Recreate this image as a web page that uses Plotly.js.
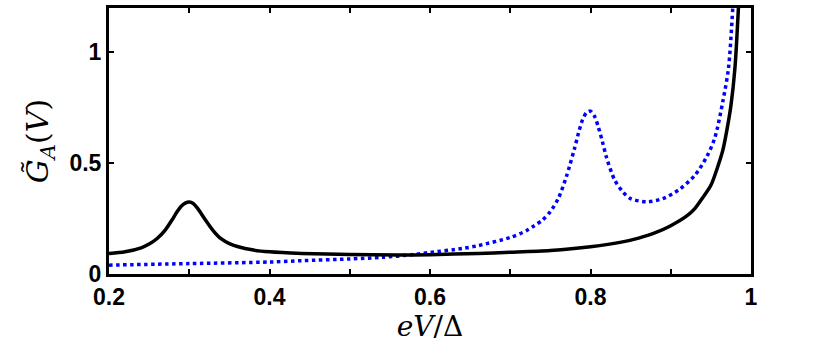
<!DOCTYPE html>
<html>
<head>
<meta charset="utf-8">
<script src="https://cdn.plot.ly/plotly-3.0.1.min.js"></script>
<style>
  body { margin: 0; background: #fff; }
  #graph { width: 830px; height: 345px; }
</style>
</head>
<body>
<div id="graph"></div>
<script>
// solid black curve
var x_black = [0.20, 0.22, 0.24, 0.25, 0.26, 0.27, 0.28, 0.285, 0.29, 0.295, 0.30, 0.305, 0.31, 0.315, 0.32,
	0.33, 0.34, 0.35, 0.36, 0.38, 0.40, 0.44, 0.50, 0.56, 0.60, 0.66, 0.70, 0.75, 0.80, 0.84,
	0.86, 0.88, 0.90, 0.92, 0.93, 0.94, 0.95, 0.96, 0.965, 0.97, 0.975, 0.98, 0.985];
var y_black = [0.092, 0.100, 0.118, 0.135, 0.160, 0.198, 0.252, 0.282, 0.306, 0.320, 0.325, 0.318, 0.298, 0.272, 0.245,
	0.195, 0.158, 0.137, 0.124, 0.108, 0.100, 0.093, 0.088, 0.086, 0.087, 0.093, 0.098, 0.106, 0.123, 0.145,
	0.162, 0.185, 0.218, 0.262, 0.295, 0.345, 0.400, 0.500, 0.560, 0.650, 0.760, 0.930, 1.250];

// dotted blue curve
var x_blue = [0.20, 0.30, 0.40, 0.44, 0.50, 0.54, 0.58, 0.60, 0.64, 0.66, 0.70, 0.72, 0.73, 0.74, 0.75,
	0.76, 0.77, 0.78, 0.785, 0.79, 0.795, 0.80, 0.805, 0.81, 0.815, 0.82, 0.83, 0.84, 0.85, 0.87,
	0.89, 0.91, 0.93, 0.945, 0.955, 0.965, 0.972, 0.978];
var y_blue = [0.040, 0.047, 0.054, 0.060, 0.068, 0.075, 0.088, 0.097, 0.115, 0.128, 0.165, 0.195, 0.218, 0.243, 0.282,
	0.342, 0.440, 0.565, 0.635, 0.695, 0.728, 0.735, 0.712, 0.660, 0.595, 0.525, 0.425, 0.372, 0.340, 0.326,
	0.340, 0.380, 0.445, 0.530, 0.615, 0.780, 0.930, 1.250];

var x_tickvals = [0.2, 0.4, 0.6, 0.8, 1.0];
var x_ticktext = ['0.2', '0.4', '0.6', '0.8', '1'];
var y_tickvals = [0, 0.5, 1];
var y_ticktext = ['0', '0.5', '1'];

var tick_font = {family: 'Liberation Sans, Arial, sans-serif', size: 23, color: '#000', weight: 'bold'};

var data = [
	{
		x: x_blue, y: y_blue,
		mode: 'lines', type: 'scatter',
		line: {color: '#0000ff', width: 3.5, dash: 'dot', shape: 'spline', smoothing: 0.8},
		cliponaxis: true
	},
	{
		x: x_black, y: y_black,
		mode: 'lines', type: 'scatter',
		line: {color: '#000000', width: 3.5, shape: 'spline', smoothing: 0.8},
		cliponaxis: true
	}
];

var layout = {
	width: 830, height: 345,
	margin: {l: 109, r: 79, t: 8, b: 71},
	paper_bgcolor: '#fff', plot_bgcolor: '#fff',
	showlegend: false,
	xaxis: {
		range: [0.2, 1.0],
		tickmode: 'array', tickvals: x_tickvals, ticktext: x_ticktext,
		ticks: 'inside', ticklen: 5, tickwidth: 2, tickcolor: '#000',
		minor: {dtick: 0.1, ticks: 'inside', ticklen: 5, tickwidth: 2, tickcolor: '#000', showgrid: false},
		showline: true, linewidth: 3, linecolor: '#000', mirror: 'ticks',
		showgrid: false, zeroline: false,
		tickfont: tick_font,
		title: {text: '<i>eV</i>/Δ', font: {family: 'DejaVu Serif, serif', size: 28, color: '#000'}, standoff: 2}
	},
	yaxis: {
		range: [0, 1.2],
		tickmode: 'array', tickvals: y_tickvals, ticktext: y_ticktext,
		ticks: 'inside', ticklen: 5, tickwidth: 2, tickcolor: '#000',
		showline: true, linewidth: 3, linecolor: '#000', mirror: 'ticks',
		showgrid: false, zeroline: false,
		tickfont: tick_font,
		title: {text: '<i>G\u0303</i><sub><i>A</i></sub>(<i>V</i>)', font: {family: 'DejaVu Serif, serif', size: 30, color: '#000'}, standoff: 12}
	}
};

Plotly.newPlot('graph', data, layout, {staticPlot: true});
</script>
</body>
</html>
